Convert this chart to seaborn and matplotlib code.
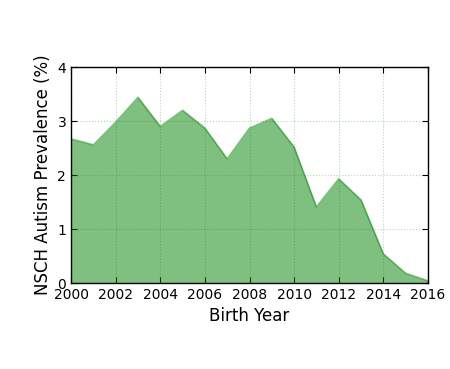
import numpy as np
import pandas as pd
import matplotlib
matplotlib.use("Agg")
import matplotlib.pyplot as plt
import seaborn as sns

# NSCH autism prevalence by birth year
years = [2000, 2001, 2002, 2003, 2004, 2005, 2006, 2007, 2008,
         2009, 2010, 2011, 2012, 2013, 2014, 2015, 2016]
prevalence = [2.67, 2.56, 2.98, 3.44, 2.90, 3.20, 2.87, 2.30, 2.87,
              3.05, 2.52, 1.41, 1.93, 1.54, 0.54, 0.18, 0.04]

df = pd.DataFrame({"year": years, "prev": prevalence})

sns.set_style("white")
plt.rcParams['font.family'] = ['DejaVu Sans']
plt.rcParams['text.color'] = 'black'
plt.rcParams['axes.labelcolor'] = 'black'
plt.rcParams['xtick.color'] = 'black'
plt.rcParams['ytick.color'] = 'black'

fig, ax = plt.subplots(figsize=(4.5, 3.69), dpi=100)
fig.subplots_adjust(left=0.158, right=0.951, top=0.818, bottom=0.233)

sns.lineplot(data=df, x="year", y="prev", color="green", alpha=0.5, linewidth=1.2, ax=ax)
ax.fill_between(df["year"], df["prev"], color="green", alpha=0.5, linewidth=0)

ax.set_xlim(2000, 2016)
ax.set_ylim(0, 4)
ax.set_xticks(range(2000, 2017, 2))
ax.set_yticks([0, 1, 2, 3, 4])
ax.grid(True, color="green", linestyle=":", alpha=0.3, linewidth=0.8)
ax.tick_params(direction="in", length=4, labelsize=10, top=True, right=True,
               bottom=True, left=True, color="black")
for s in ax.spines.values():
    s.set_color("black")
    s.set_linewidth(1)
ax.set_xlabel("Birth Year", fontsize=12)
ax.set_ylabel("NSCH Autism Prevalence (%)", fontsize=12)

fig.savefig("out.png", dpi=100)
